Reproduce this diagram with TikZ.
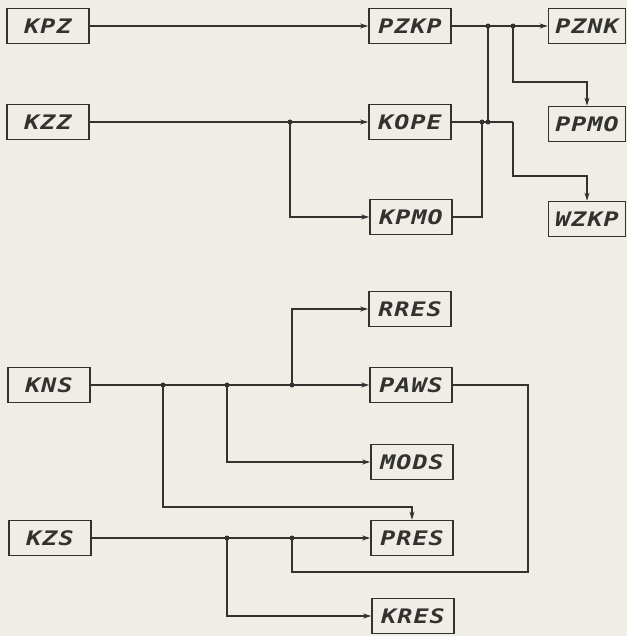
\documentclass[tikz,border=0pt]{standalone}
\usepackage{fontspec}
\newfontfamily\boxfont[FakeStretch=1.25,LetterSpace=5]{DejaVu Sans Mono}
\usetikzlibrary{arrows.meta,positioning,calc}
\definecolor{paper}{RGB}{239,237,229}
\definecolor{ink}{RGB}{50,50,48}
\tikzset{
  blk/.style={draw=ink, line width=1.6pt, minimum width=82pt, minimum height=35pt,
    inner sep=0pt, text=ink, font=\boxfont\bfseries\itshape\fontsize{20}{20}\selectfont},
  rblk/.style={blk, minimum width=77pt},
  flow/.style={ink, line width=1.6pt},
  farr/.style={flow, -{Stealth[length=8pt,width=5pt]}},
  jdot/.style={circle, fill=ink, inner sep=0pt, minimum size=5pt},
}

\begin{document}
\begin{tikzpicture}[x=1pt,y=-1pt]
\fill[paper] (0,0) rectangle (627,636);
\useasboundingbox (0,0) rectangle (627,636);
% left column
\node[blk] (kpz) at (48,26) {KPZ};
\node[blk] (kzz) at (48,122) {KZZ};
\node[blk] (kns) at (49,385) {KNS};
\node[blk] (kzs) at (50,538) {KZS};
% middle column
\node[blk] (pzkp) at (410,26) {PZKP};
\node[blk] (kope) at (410,122) {KOPE};
\node[blk] (kpmo) at (411,217) {KPMO};
\node[blk] (rres) at (410,309) {RRES};
\node[blk] (paws) at (411,385) {PAWS};
\node[blk] (mods) at (412,462) {MODS};
\node[blk] (pres) at (412,538) {PRES};
\node[blk] (kres) at (413,616) {KRES};
% right column
\node[rblk] (pznk) at (587,26) {PZNK};
\node[rblk] (ppmo) at (587,124) {PPMO};
\node[rblk] (wzkp) at (587,219) {WZKP};
% junctions, upper part
\coordinate (jz) at (kzz.east -| 290,0);
\coordinate (ja) at (pzkp.east -| 488,0);
\coordinate (jb) at (pzkp.east -| 513,0);
\coordinate (jc) at (kope.east -| 488,0);
\coordinate (jd) at (kope.east -| 482,0);
\coordinate (je) at (kope.east -| 513,0);
% junctions, lower part
\coordinate (ka) at (kns.east -| 163,0);
\coordinate (kb) at (kns.east -| 227,0);
\coordinate (kc) at (kns.east -| 292,0);
\coordinate (kd) at (kzs.east -| 227,0);
\coordinate (ke) at (kzs.east -| 292,0);
% upper connectors
\draw[farr] (kpz) -- (pzkp);
\draw[farr] (pzkp) -- (pznk);
\draw[farr] (jb) |- (513,82) -| (ppmo.north);
\draw[flow] (ja) -- (jc);
\draw[flow] (kope.east) -- (je);
\draw[farr] (je) |- (513,176) -| (wzkp.north);
\draw[flow] (kpmo.east) -| (jd);
\draw[farr] (kzz) -- (kope);
\draw[farr] (jz) |- (kpmo.west);
% lower connectors
\draw[farr] (kns) -- (paws);
\draw[farr] (kc) |- (rres.west);
\draw[farr] (kb) |- (mods.west);
\draw[farr] (ka) |- (412,507) -- (pres.north);
\draw[farr] (kzs) -- (pres);
\draw[farr] (kd) |- (kres.west);
\draw[flow] (paws.east) -| (528,572) -| (ke);
% dots
\foreach \j in {jz,ja,jb,jc,jd,ka,kb,kc,kd,ke}
  \node[jdot] at (\j) {};
\end{tikzpicture}
\end{document}
